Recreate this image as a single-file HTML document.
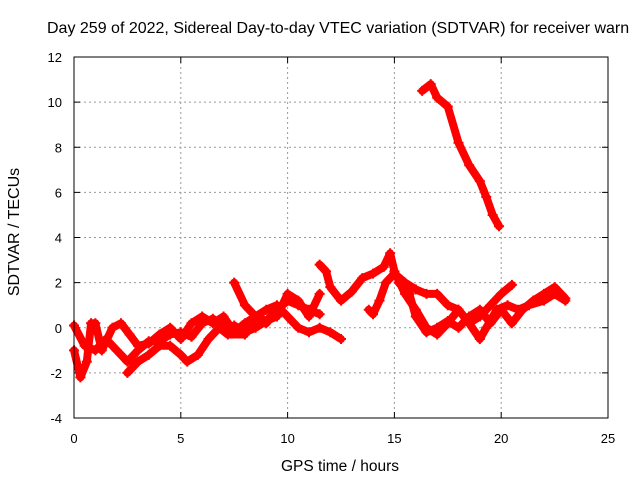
<!DOCTYPE html>
<html><head><meta charset="utf-8"><style>
body{margin:0;background:#fff;}
svg text{font-family:"Liberation Sans",sans-serif;font-size:13px;fill:#000;}
svg text.big{font-size:15.5px;}
</style></head><body>
<svg width="640" height="480" id="chart">
<text class="big" x="47" y="33" style="font-size:16px">Day 259 of 2022, Sidereal Day-to-day VTEC variation (SDTVAR) for receiver warn</text>
<text class="big" x="340" y="471" text-anchor="middle">GPS time / hours</text>
<text class="big" transform="translate(19,232) rotate(-90)" text-anchor="middle" style="font-size:16px">SDTVAR / TECUs</text>
<g id="grid"></g><g id="ticks"></g><g id="marks"></g>
<rect x="74" y="57" width="534" height="361" fill="none" stroke="#000"/>
</svg>
<script>
const xTicks=[0,5,10,15,20,25];
const yTicks=[-4,-2,0,2,4,6,8,10,12];
const traceA=[[16.3,10.5],[16.7,10.8],[17,10.2],[17.5,9.8],[18,8.2],[18.5,7.2],[19,6.5],[19.3,5.8],[19.6,5.0],[19.9,4.5]];
const traceB=[[0,-1],[0.3,-2.2],[0.6,-1.5],[0.8,0.2],[1.0,0.2],[1.3,-1.0],[1.8,0],[2.2,0.2],[2.6,-0.3],[3.0,-0.8],[3.5,-0.7],[4,-0.3],[4.5,0],[5,-0.5],[5.5,0.2],[6,0.5],[6.5,0.2],[7,0.5],[7.5,-0.2],[8,0.2],[8.5,0.5],[9,0.2],[9.5,0.8],[10,1.2],[10.5,1.0],[11,0.8],[11.5,0.6]];
const traceC=[[0,0.1],[0.5,-0.8],[1.0,-1.0],[1.5,-0.5],[2,-1.0],[2.5,-1.5],[3,-1.0],[3.5,-0.6],[4,-0.6],[4.5,-0.3],[5,-0.2],[5.5,-0.4],[6,0.2],[6.5,0.4],[7,0.0],[7.5,0.1],[8,-0.2],[8.5,0.0],[9,0.3],[9.5,0.5],[10,1.5],[10.5,1.2],[11,0.5],[11.5,1.5]];
const traceD=[[2.5,-2.0],[3,-1.5],[3.5,-1.2],[4,-0.8],[4.5,-0.8],[5,-1.2],[5.3,-1.5],[5.8,-1.2],[6.3,-0.5],[6.8,0],[7.2,-0.3],[8,-0.3],[8.5,0.5],[9,0.3],[9.5,0.8],[10,1.2]];
const traceE=[[7.5,2.0],[8,1.0],[8.5,0.5],[9,0.8],[9.5,1.0],[10,0.5],[10.5,0],[11,-0.2],[11.5,0],[12,-0.2],[12.5,-0.5]];
const traceF=[[11.5,2.8],[11.8,2.5],[12,1.8],[12.5,1.2],[13,1.6],[13.5,2.2],[14,2.4],[14.5,2.7],[14.8,3.3],[15.0,2.5],[15.5,1.5],[16,0.8],[16.5,0],[17,-0.3],[17.5,0.2],[18,0.8],[18.5,0.2],[19,0.5],[19.5,1.0],[20,1.5],[20.5,1.9]];
const traceG=[[13.8,0.8],[14,0.6],[14.3,1.2],[14.6,2.0],[15,2.4],[15.5,2.0],[16,1.7],[16.5,1.5],[17,1.5],[17.5,1.0],[18,0.8],[18.5,0.2],[19,-0.5],[19.3,0],[19.8,0.8],[20.3,1.0],[20.8,0.8],[21.3,1.0],[22,1.2],[22.5,1.5],[23,1.2]];
const traceH=[[15.2,2.0],[15.7,1.5],[16,0.5],[16.5,-0.2],[17,0],[17.5,0.3],[18,0],[18.5,0.5],[19,0.8],[19.5,0.2],[20,0.8],[20.5,0.2],[21,0.8],[21.5,1.2],[22,1.5],[22.5,1.8],[23,1.3]];
const traces=[traceA,traceB,traceC,traceD,traceE,traceF,traceG,traceH];
const X=v=>74+v*534/25, Y=v=>418-(v+4)*361/16;
const NS="http://www.w3.org/2000/svg";
const mk=(t,a,p)=>{const e=document.createElementNS(NS,t);for(const k in a)e.setAttribute(k,a[k]);p.appendChild(e);return e;};
const grid=document.getElementById('grid'),ticks=document.getElementById('ticks'),marks=document.getElementById('marks');
xTicks.forEach(v=>{
 if(v>0&&v<25){const g=mk('line',{x1:X(v),x2:X(v),y1:57,y2:418,stroke:'#999','stroke-dasharray':'2,3'},grid);
 
 }
 mk('line',{x1:X(v),x2:X(v),y1:418,y2:412,stroke:'#000'},ticks);
 mk('line',{x1:X(v),x2:X(v),y1:57,y2:63,stroke:'#000'},ticks);
 const t=mk('text',{x:X(v),y:443,'text-anchor':'middle'},ticks);t.textContent=v;
 
 
});
yTicks.forEach(v=>{
 if(v>-4&&v<12){const g=mk('line',{x1:74,x2:608,y1:Y(v),y2:Y(v),stroke:'#999','stroke-dasharray':'2,3'},grid);
 
 }
 mk('line',{x1:74,x2:80,y1:Y(v),y2:Y(v),stroke:'#000'},ticks);
 mk('line',{x1:602,x2:608,y1:Y(v),y2:Y(v),stroke:'#000'},ticks);
 const t=mk('text',{x:62,y:Y(v)+5,'text-anchor':'end'},ticks);t.textContent=v;
 
 
});
traces.forEach((tr,i)=>{
 const pl=mk('polyline',{points:tr.map(p=>X(p[0])+','+Y(p[1])).join(' '),fill:'none',stroke:'#f00','stroke-width':8,'stroke-linejoin':'round','stroke-linecap':'round'},marks);
 
 
 tr.forEach(p=>{
  const x=X(p[0]),y=Y(p[1]);
  const m=mk('path',{d:`M${x-5},${y}H${x+5}M${x},${y-5}V${y+5}`,stroke:'#f00','stroke-width':2},marks);
  
  
 });
});
</script>
</body></html>
